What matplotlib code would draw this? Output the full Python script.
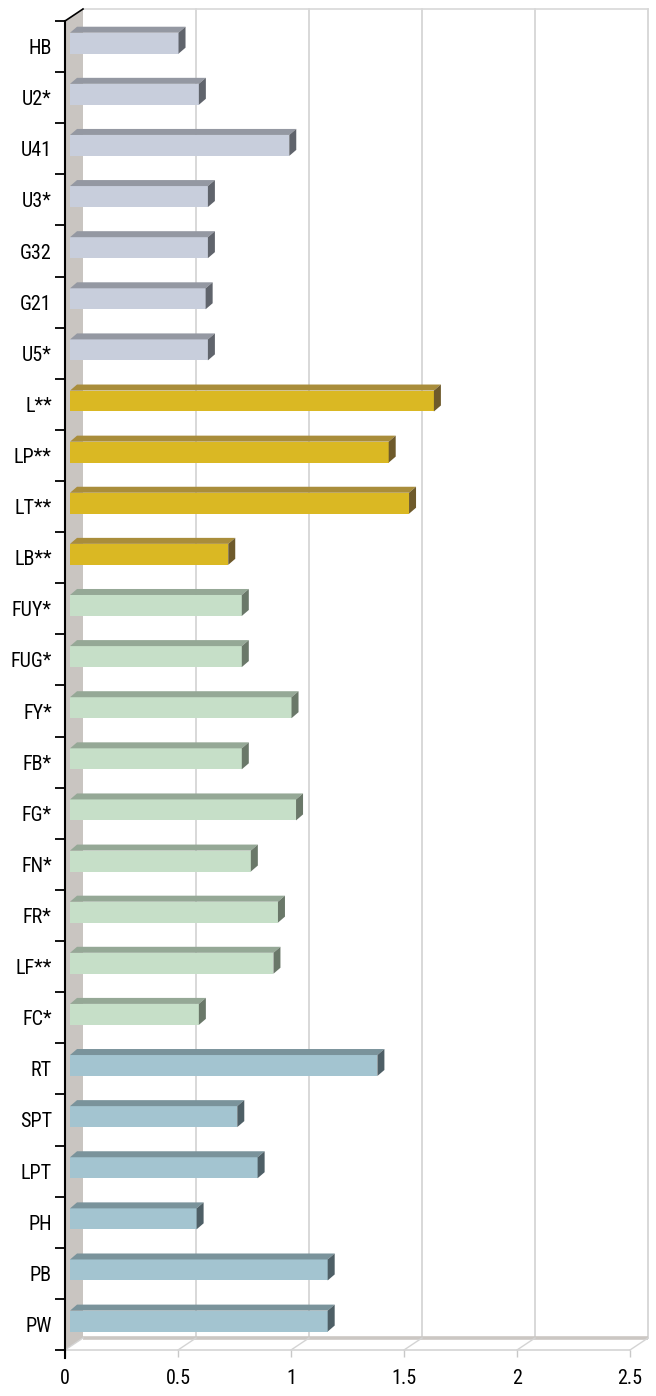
import matplotlib
matplotlib.use("Agg")
import matplotlib.pyplot as plt
import numpy as np

plt.rcParams['font.family'] = ['Roboto Condensed', 'Archivo Narrow', 'DejaVu Sans']

labels = ['HB', 'U2*', 'U41', 'U3*', 'G32', 'G21', 'U5*',
          'L**', 'LP**', 'LT**', 'LB**',
          'FUY*', 'FUG*', 'FY*', 'FB*', 'FG*', 'FN*', 'FR*', 'LF**', 'FC*',
          'RT', 'SPT', 'LPT', 'PH', 'PB', 'PW']
values = [0.48, 0.57, 0.97, 0.61, 0.61, 0.60, 0.61,
          1.61, 1.41, 1.50, 0.70,
          0.76, 0.76, 0.98, 0.76, 1.00, 0.80, 0.92, 0.90, 0.57,
          1.36, 0.74, 0.83, 0.56, 1.14, 1.14]
group_sizes = [7, 4, 9, 6]
# front, top, side shades per group
group_colors = [('#c8cedc', '#9498a2', '#60646c'),
                ('#dab823', '#a98d3b', '#6e5a2b'),
                ('#c6dfc8', '#95a896', '#6a7869'),
                ('#a3c4d0', '#7a939b', '#4e5f66')]
xticks = [0, 0.5, 1, 1.5, 2, 2.5]
xticklabels = ['0', '0.5', '1', '1.5', '2', '2.5']

W, H = 656, 1396
fig = plt.figure(figsize=(W / 100, H / 100), dpi=100)
ax = fig.add_axes([65 / W, (H - 1350) / H, (630 - 65) / W, (1350 - 21) / H])
n = len(labels)
ax.set_xlim(0, 2.5)
ax.set_ylim(n - 0.5, -0.5)

# depth of the 3d box in data units
DX = 18 / 226.0
DY = 12 / 51.1
ytop, ybot = -0.5, n - 0.5

# back wall gridlines and top edge
for t in xticks[1:]:
    ax.plot([t + DX, t + DX], [ytop - DY, ybot - DY], color='#d2d2d2', lw=1.2,
            clip_on=False, zorder=1)
ax.plot([DX, 2.5 + DX], [ytop - DY, ytop - DY], color='#d8d8d8', lw=1.2,
        clip_on=False, zorder=1)

# side wall
ax.fill([0, DX, DX, 0], [ytop, ytop - DY, ybot - DY, ybot], color='#c9c5c1',
        lw=0, clip_on=False, zorder=2)
ax.plot([0, DX], [ytop, ytop - DY], color='black', lw=1.2, clip_on=False, zorder=5)

# floor
ax.plot([DX, 2.5 + DX], [ybot - DY, ybot - DY], color='#cbc7c3', lw=2.6,
        clip_on=False, zorder=2, solid_capstyle='butt')
ax.plot([0, 2.5], [ybot, ybot], color='#d4d4d4', lw=1.2, clip_on=False, zorder=2)
for t in xticks:
    ax.plot([t, t + DX], [ybot, ybot - DY], color='#d4d4d4', lw=1.0,
            clip_on=False, zorder=2)

# bars
f0 = 0.28
ddx, ddy = 7 / 226.0, 6 / 51.1
bh = 0.41
colors = []
for size, c in zip(group_sizes, group_colors):
    colors += [c] * size
for i, (v, c) in enumerate(zip(values, colors)):
    x0 = f0 * DX
    yc = i - f0 * DY
    y1, y2 = yc - bh / 2, yc + bh / 2
    ax.fill([x0, x0 + v, x0 + v, x0], [y1, y1, y2, y2], color=c[0], lw=0, zorder=3)
    ax.fill([x0, x0 + v, x0 + v + ddx, x0 + ddx],
            [y1, y1, y1 - ddy, y1 - ddy], color=c[1], lw=0, zorder=3)
    ax.fill([x0 + v, x0 + v + ddx, x0 + v + ddx, x0 + v],
            [y1, y1 - ddy, y2 - ddy, y2], color=c[2], lw=0, zorder=3)

# axes and ticks
for s in ['top', 'right', 'bottom']:
    ax.spines[s].set_visible(False)
ax.spines['left'].set_linewidth(1.5)
ax.spines['left'].set_zorder(6)
ax.plot([0, 0], [ybot, ybot + 0.15], color='black', lw=1.5, clip_on=False, zorder=6)
ax.set_yticks(range(n))
ax.set_yticklabels(labels, fontsize=14.5)
ax.set_yticks(np.arange(-0.5, n, 1.0), minor=True)
ax.tick_params(axis='y', which='major', length=0, pad=9.5)
ax.tick_params(axis='y', which='minor', length=7.5, width=1.3, color='black')
ax.set_xticks(xticks)
ax.set_xticklabels(xticklabels, fontsize=14.5)
ax.tick_params(axis='x', which='major', length=5, width=1.0, color='#c8c8c8', pad=9)

fig.savefig('out.png', dpi=100)
